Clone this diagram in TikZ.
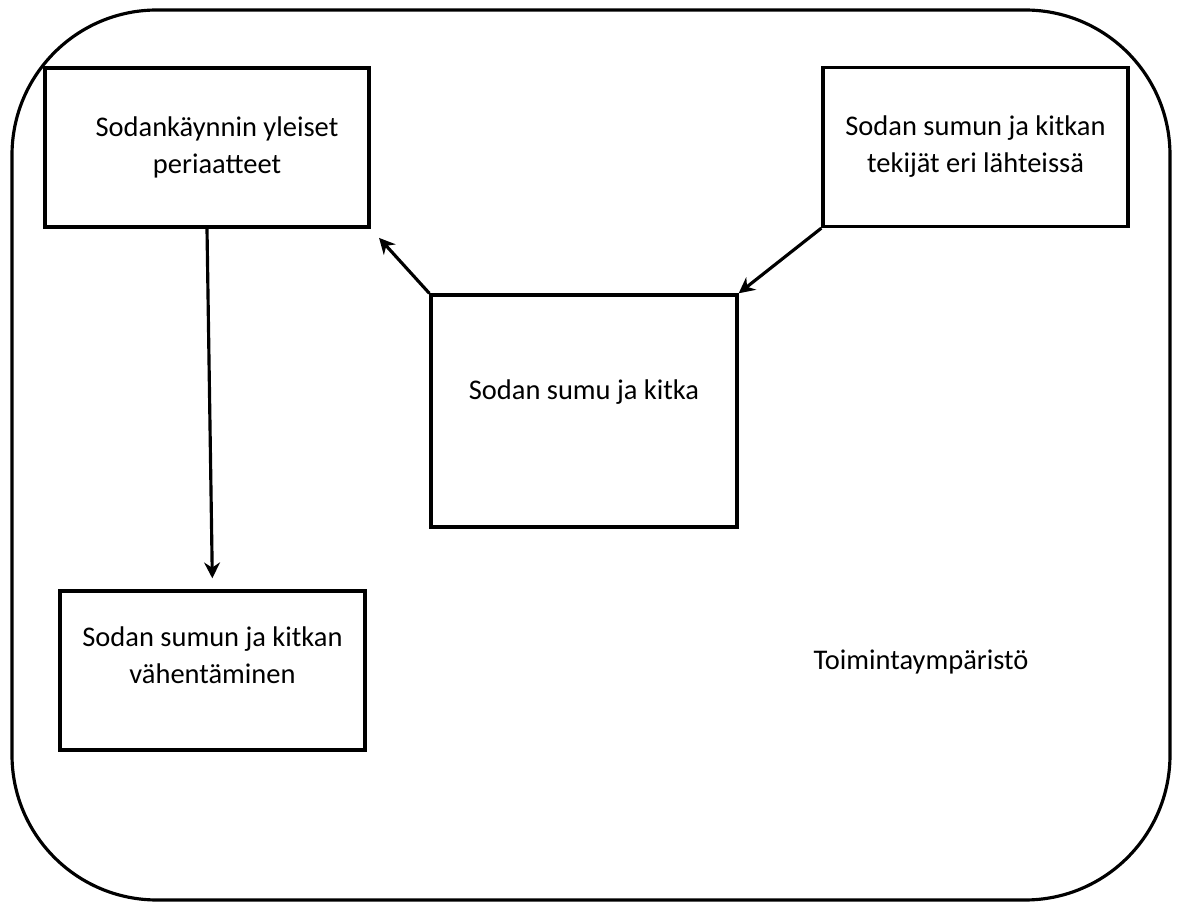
\documentclass[tikz,border=0pt]{standalone}
\usepackage{fontspec}
\setmainfont{Carlito}
\usetikzlibrary{arrows.meta}
\usetikzlibrary{positioning}
\tikzset{
box/.style = { rectangle, draw = black, line width = 1.9pt, fill = white, minimum width = 6.1cm, minimum height = 3.18cm },
box text/.style = { align = center, font = \fontsize{16.2}{21}\selectfont },
link/.style = { draw = black, line width = 1.8pt, -{Stealth[length = 9pt, width = 9pt]} },
}

\begin{document}
\begin{tikzpicture}
    \useasboundingbox (0, 0) rectangle (23.66, 18.04);
    \node[draw = black, line width = 1.8pt, rounded corners = 2.9cm, minimum width = 23.16cm, minimum height = 17.8cm] (ymparisto) at (11.82, 8.94) {};
    \node[box, minimum width = 6.48cm, label = {[box text, xshift = 0.2cm]center:Sodankäynnin yleiset\\periaatteet}] (periaatteet) at (4.14, 15.09) {};
    \node[box, label = {[box text]center:Sodan sumun ja kitkan\\tekijät eri lähteissä}] (tekijat) at (19.51, 15.1) {};
    \node[box, minimum width = 6.12cm, minimum height = 4.64cm, label = {[box text, yshift = 0.38cm]center:Sodan sumu ja kitka}] (kitka) at (11.68, 9.82) {};
    \node[box, label = {[box text, yshift = 0.3cm]center:Sodan sumun ja kitkan\\vähentäminen}] (vahentaminen) at (4.25, 4.63) {};
    \node[box text] (toiminta) at (18.42, 4.8) {Toimintaympäristö};
    % nuolet
    \draw[link, shorten >= 0.22cm] (periaatteet.south) -- (vahentaminen.north);
    \draw[link] (tekijat.south west) -- (kitka.north east);
    \draw[link, shorten >= 0.25cm] (kitka.north west) -- (periaatteet.south east);
\end{tikzpicture}
\end{document}
